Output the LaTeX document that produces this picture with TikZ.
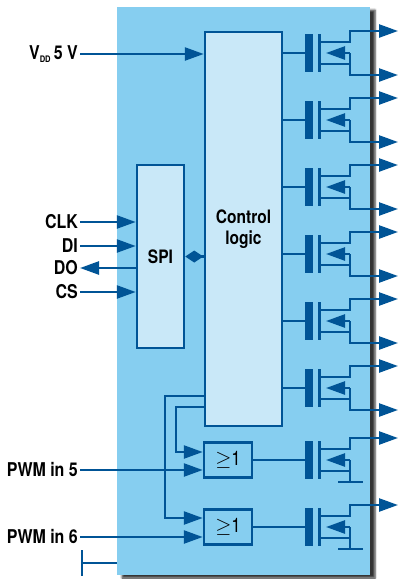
\documentclass[tikz,border=0pt]{standalone}
\usepackage{amsmath}
\usepackage{fontspec}
\setmainfont{TeX Gyre Heros}[FakeStretch=0.84]
\usepackage{tikz}
\usetikzlibrary{positioning,calc,arrows.meta,shadows.blur}

\definecolor{chipblue}{RGB}{134,206,240}
\definecolor{boxblue}{RGB}{201,232,248}
\definecolor{wireblue}{RGB}{0,84,150}

\begin{document}
\begin{tikzpicture}[
    x=1pt, y=-1pt,
    wire/.style={draw=wireblue, line width=2.5pt},
    sig/.style={wire, -{Triangle[length=19pt,width=13pt]}},
    block/.style={draw=wireblue, line width=2.5pt, fill=boxblue, inner sep=0pt, font=\fontsize{18.5}{21}\selectfont\bfseries},
    orgate/.style={block, fill=chipblue, minimum width=48pt, minimum height=35pt, font=\fontsize{20}{20}\selectfont},
    pin/.style={anchor=east, inner sep=2pt, font=\fontsize{19}{20}\selectfont\bfseries}
]
\useasboundingbox (0,0) rectangle (400,579);

% Chip body
\node[fill=chipblue, minimum width=253pt, minimum height=568pt, inner sep=0pt,
      blur shadow={shadow xshift=5pt, shadow yshift=-3pt, shadow blur steps=5, shadow opacity=80}] (chip) at (243.5,291) {};

% Blocks
\node[block, minimum width=77pt, minimum height=394pt, align=center] (ctrl) at (243.5,229) {Control\\[0pt]logic};
\node[block, minimum width=47pt, minimum height=183pt] (spi) at (160.5,256.5) {SPI};
\node[orgate] (or5) at (228,460) {$\geq$1};
\node[orgate] (or6) at (228,527) {$\geq$1};

% Pin labels
\node[pin] (vdd) at (80,54) {V\raisebox{-0.35ex}{\fontsize{9}{9}\selectfont DD}\,5 V};
\node[pin] (clk) at (80,222) {CLK};
\node[pin] (di) at (80,246) {DI};
\node[pin] (do) at (80,268) {DO};
\node[pin] (cs) at (80,292) {CS};
\node[pin] (pwm5) at (80,470) {PWM in 5};
\node[pin] (pwm6) at (80,537) {PWM in 6};

% Inputs and outputs
\draw[sig] (vdd) -- (vdd -| ctrl.west);
\draw[sig] (clk) -- (clk -| spi.west);
\draw[sig] (di) -- (di -| spi.west);
\draw[sig] (spi.west |- do) -- (do);
\draw[sig] (cs) -- (cs -| spi.west);
\draw[sig] (pwm5) -- (pwm5 -| or5.west);
\draw[sig] (pwm6) -- (pwm6 -| or6.west);
\draw[wire, {Diamond[length=18pt,width=12pt]}-] (spi.east) -- (spi.east -| ctrl.west);

% Control logic to OR gates
\draw[sig] (ctrl.west |- 0,396) -| (165,518) -- (or6.west |- 0,518);
\draw[sig] (ctrl.west |- 0,407) -| (176,452) -- (or5.west |- 0,452);

% Ground
\coordinate (gnd) at (82,563);
\draw[wire] (chip.west |- gnd) -- (gnd);
\draw[wire] (82,550) -- (82,576);

% High-side switches
\foreach \y in {53,120,187,254,321,388} {
    \draw[wire] (ctrl.east |- 0,\y) -- (306,\y);
    \fill[wireblue] (305,\y-19) rectangle (313,\y+19);
    \draw[wireblue, line width=3pt] (319,\y-19) -- (319,\y+19);
    \draw[sig] (319,\y-11) -- (350,\y-11) -- (350,\y-22) -- (398,\y-22);
    \draw[sig] (350,\y) -- (326,\y);
    \draw[wire] (319,\y+11) -- (350,\y+11);
    \draw[sig] (350,\y) -- (350,\y+22) -- (398,\y+22);
}

% Low-side switches
\foreach \g/\y in {or5/460,or6/527} {
    \draw[wire] (\g.east) -- (306,\y);
    \fill[wireblue] (305,\y-19) rectangle (313,\y+19);
    \draw[wireblue, line width=3pt] (319,\y-19) -- (319,\y+19);
    \draw[sig] (319,\y-11) -- (350,\y-11) -- (350,\y-22) -- (398,\y-22);
    \draw[sig] (350,\y) -- (326,\y);
    \draw[wire] (319,\y+11) -- (350,\y+11);
    \draw[wire] (350,\y) -- (350,\y+22);
    \draw[wire] (338,\y+22) -- (363,\y+22);
}

\end{tikzpicture}
\end{document}
